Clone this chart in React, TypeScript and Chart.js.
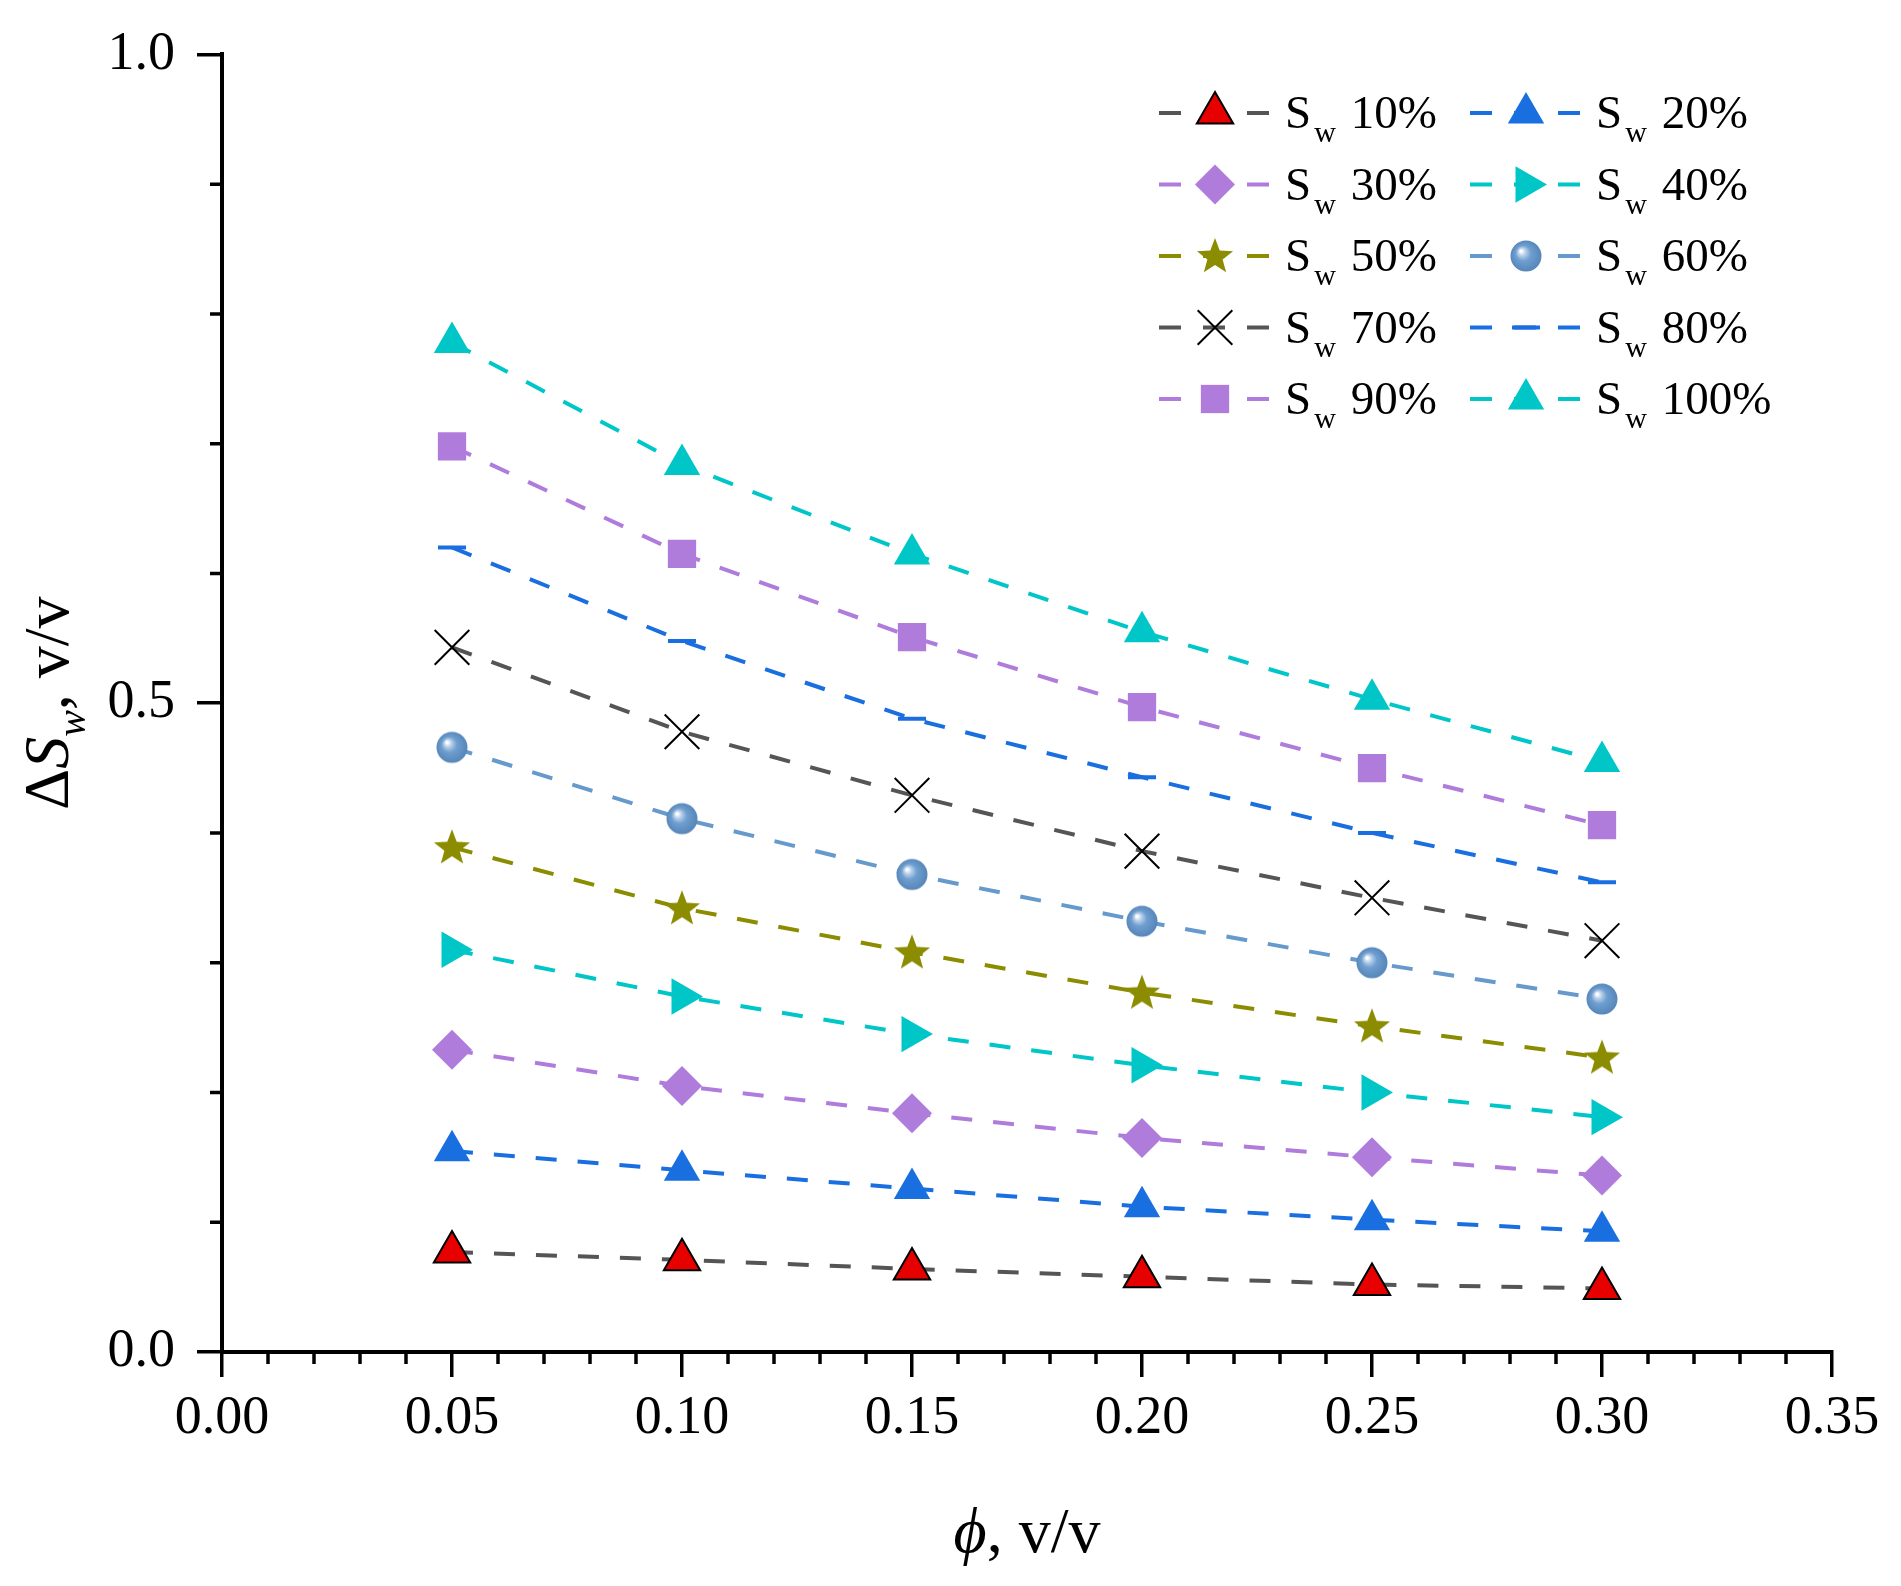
import { useEffect, useRef } from 'react'
import Chart from 'chart.js/auto'
import { drawPoint } from 'chart.js/helpers'

// porosity (x) and delta Sw (y)
const porosity = [0.05, 0.1, 0.15, 0.2, 0.25, 0.3]
const sw10 = [0.077, 0.071, 0.064, 0.058, 0.052, 0.049]
const sw20 = [0.155, 0.14, 0.126, 0.112, 0.102, 0.093]
const sw30 = [0.233, 0.205, 0.184, 0.165, 0.15, 0.136]
const sw40 = [0.31, 0.274, 0.245, 0.221, 0.2, 0.181]
const sw50 = [0.389, 0.342, 0.308, 0.277, 0.251, 0.227]
const sw60 = [0.466, 0.411, 0.368, 0.332, 0.3, 0.272]
const sw70 = [0.543, 0.478, 0.429, 0.386, 0.35, 0.317]
const sw80 = [0.62, 0.548, 0.488, 0.443, 0.4, 0.362]
const sw90 = [0.698, 0.615, 0.551, 0.497, 0.45, 0.406]
const sw100 = [0.778, 0.684, 0.615, 0.555, 0.503, 0.455]
const seriesValues = [sw10, sw20, sw30, sw40, sw50, sw60, sw70, sw80, sw90, sw100]
const seriesLabels = ['10%', '20%', '30%', '40%', '50%', '60%', '70%', '80%', '90%', '100%']

const W = 1901
const H = 1586
const FONT = "'Liberation Serif', 'Times New Roman', serif"

function makeStar(color: string) {
  const c = document.createElement('canvas')
  c.width = 40
  c.height = 40
  const g = c.getContext('2d')!
  const R = 19
  const r = 8
  g.beginPath()
  for (let i = 0; i < 10; i++) {
    const a = -Math.PI / 2 + (i * Math.PI) / 5
    const rad = i % 2 === 0 ? R : r
    const px = 20 + Math.cos(a) * rad
    const py = 21 + Math.sin(a) * rad
    if (i === 0) g.moveTo(px, py)
    else g.lineTo(px, py)
  }
  g.closePath()
  g.fillStyle = color
  g.fill()
  return c
}

function makeSphere() {
  const c = document.createElement('canvas')
  c.width = 34
  c.height = 34
  const g = c.getContext('2d')!
  const grad = g.createRadialGradient(12, 12, 1, 17, 17, 16)
  grad.addColorStop(0, '#ffffff')
  grad.addColorStop(0.18, '#b9d0ea')
  grad.addColorStop(0.45, '#6f9fd0')
  grad.addColorStop(1, '#5585b8')
  g.beginPath()
  g.arc(17, 17, 15.5, 0, Math.PI * 2)
  g.fillStyle = grad
  g.fill()
  return c
}

interface SeriesStyle {
  line: string
  fill: string
  stroke: string
  bw: number
  style: any
  r: number
  rot: number
}

export default function App() {
  const canvasRef = useRef<HTMLCanvasElement>(null)
  const chartRef = useRef<Chart | null>(null)

  useEffect(() => {
    document.body.style.margin = '0'
    document.body.style.overflow = 'hidden'
    if (!canvasRef.current) return
    const ctx = canvasRef.current.getContext('2d')
    if (!ctx) return

    const styles: SeriesStyle[] = [
      { line: '#555555', fill: '#e60000', stroke: '#000000', bw: 2, style: 'triangle', r: 21, rot: 0 },
      { line: '#1a6fe0', fill: '#1a6fe0', stroke: '#1a6fe0', bw: 0, style: 'triangle', r: 21, rot: 0 },
      { line: '#b07cdc', fill: '#b07cdc', stroke: '#b07cdc', bw: 0, style: 'rectRot', r: 20, rot: 0 },
      { line: '#00c6c8', fill: '#00c6c8', stroke: '#00c6c8', bw: 0, style: 'triangle', r: 21, rot: 90 },
      { line: '#8c8c00', fill: '#8c8c00', stroke: '#8c8c00', bw: 0, style: makeStar('#8c8c00'), r: 18, rot: 0 },
      { line: '#6699cc', fill: '#6699cc', stroke: '#6699cc', bw: 0, style: makeSphere(), r: 16, rot: 0 },
      { line: '#555555', fill: 'rgba(0,0,0,0)', stroke: '#000000', bw: 2, style: 'crossRot', r: 24.5, rot: 0 },
      { line: '#1a6fe0', fill: '#1a6fe0', stroke: '#1a6fe0', bw: 4, style: 'line', r: 14, rot: 0 },
      { line: '#b07cdc', fill: '#b07cdc', stroke: '#b07cdc', bw: 0, style: 'rect', r: 20, rot: 0 },
      { line: '#00c6c8', fill: '#00c6c8', stroke: '#00c6c8', bw: 0, style: 'triangle', r: 21, rot: 0 },
    ]

    const decor = {
      id: 'decor',
      afterDraw(chart: any) {
        const c: CanvasRenderingContext2D = chart.ctx
        const area = chart.chartArea
        const xs = chart.scales.x
        const ys = chart.scales.y
        c.save()

        // minor ticks
        c.strokeStyle = '#000'
        c.lineWidth = 3.5
        c.beginPath()
        for (let i = 1; i < 35; i++) {
          if (i % 5 === 0) continue
          const x = xs.getPixelForValue(i / 100)
          c.moveTo(x, area.bottom)
          c.lineTo(x, area.bottom + 12)
        }
        for (let i = 1; i < 10; i++) {
          if (i === 5) continue
          const y = ys.getPixelForValue(i / 10)
          c.moveTo(area.left, y)
          c.lineTo(area.left - 12, y)
        }
        c.stroke()

        // x title
        c.fillStyle = '#000'
        c.textBaseline = 'alphabetic'
        c.textAlign = 'left'
        c.font = `italic 64px ${FONT}`
        const phiW = c.measureText('ϕ').width
        c.font = `64px ${FONT}`
        const restW = c.measureText(', v/v').width
        const xt = (area.left + area.right) / 2 - (phiW + restW) / 2
        c.font = `italic 64px ${FONT}`
        c.fillText('ϕ', xt, 1552)
        c.font = `64px ${FONT}`
        c.fillText(', v/v', xt + phiW, 1552)

        // y title
        const parts = [
          { t: 'Δ', f: `64px ${FONT}`, dy: 0 },
          { t: 'S', f: `italic 64px ${FONT}`, dy: 0 },
          { t: 'w', f: `italic 40px ${FONT}`, dy: 17 },
          { t: ', v/v', f: `64px ${FONT}`, dy: 0 },
        ]
        let total = 0
        const widths = parts.map((p) => {
          c.font = p.f
          const w = c.measureText(p.t).width
          total += w
          return w
        })
        c.save()
        c.translate(68, (area.top + area.bottom) / 2)
        c.rotate(-Math.PI / 2)
        let px = -total / 2
        parts.forEach((p, i) => {
          c.font = p.f
          c.fillText(p.t, px, p.dy)
          px += widths[i]
        })
        c.restore()

        // legend
        const colX = [1159, 1470]
        chart.data.datasets.forEach((ds: any, i: number) => {
          const st = styles[i]
          const x0 = colX[i % 2]
          const y = 113 + Math.floor(i / 2) * 71.5
          c.save()
          c.strokeStyle = st.line
          c.lineWidth = 4
          c.setLineDash([22, 22])
          c.beginPath()
          c.moveTo(x0, y)
          c.lineTo(x0 + 111, y)
          c.stroke()
          c.restore()
          c.save()
          c.fillStyle = st.fill
          c.strokeStyle = st.stroke
          c.lineWidth = st.bw
          drawPoint(c, { pointStyle: st.style, rotation: st.rot, radius: st.r, borderWidth: st.bw } as any, x0 + 56, y)
          c.restore()
          c.fillStyle = '#000'
          let tx = x0 + 126
          c.font = `47px ${FONT}`
          c.fillText('S', tx, y + 15)
          tx += c.measureText('S').width + 3
          c.font = `30px ${FONT}`
          c.fillText('w', tx, y + 29)
          tx += c.measureText('w').width + 15
          c.font = `47px ${FONT}`
          c.fillText(seriesLabels[i], tx, y + 15)
          void ds
        })

        c.restore()
      },
    }

    if (chartRef.current) chartRef.current.destroy()

    chartRef.current = new Chart(ctx, {
      type: 'line',
      data: {
        datasets: seriesValues.map((vals, i) => {
          const st = styles[i]
          return {
            label: 'Sw ' + seriesLabels[i],
            data: porosity.map((p, j) => ({ x: p, y: vals[j] })),
            borderColor: st.line,
            borderWidth: 4,
            borderDash: [21, 21],
            fill: false,
            tension: 0,
            pointStyle: st.style,
            pointRadius: st.r,
            pointRotation: st.rot,
            pointBackgroundColor: st.fill,
            pointBorderColor: st.stroke,
            pointBorderWidth: st.bw,
          }
        }),
      },
      options: {
        animation: false,
        responsive: false,
        devicePixelRatio: 1,
        layout: { padding: { top: 52, right: 69, left: 0, bottom: 0 } },
        plugins: { legend: { display: false }, tooltip: { enabled: false } },
        scales: {
          x: {
            type: 'linear',
            min: 0,
            max: 0.35,
            afterFit: (s: any) => {
              s.height = H - 1352
            },
            border: { display: true, color: '#000', width: 4 },
            grid: {
              drawOnChartArea: false,
              drawTicks: true,
              tickLength: 25,
              tickWidth: 3.5,
              tickColor: '#000',
              color: '#000',
              lineWidth: 3.5,
            },
            ticks: {
              stepSize: 0.05,
              padding: 9,
              color: '#000',
              font: { family: FONT, size: 54 },
              maxRotation: 0,
              callback: (v: any) => Number(v).toFixed(2),
            },
          },
          y: {
            type: 'linear',
            min: 0,
            max: 1,
            afterFit: (s: any) => {
              s.width = 222
            },
            border: { display: true, color: '#000', width: 4 },
            grid: {
              drawOnChartArea: false,
              drawTicks: true,
              tickLength: 25,
              tickWidth: 3.5,
              tickColor: '#000',
              color: '#000',
              lineWidth: 3.5,
            },
            ticks: {
              stepSize: 0.5,
              padding: 22,
              color: '#000',
              font: { family: FONT, size: 54 },
              callback: (v: any) => Number(v).toFixed(1),
            },
          },
        },
      },
      plugins: [decor],
    } as any)

    return () => {
      if (chartRef.current) {
        chartRef.current.destroy()
        chartRef.current = null
      }
    }
  }, [])

  return (
    <div style={{ width: W, height: H, background: '#fff' }}>
      <canvas ref={canvasRef} width={W} height={H} style={{ display: 'block', width: W, height: H }} />
    </div>
  )
}
